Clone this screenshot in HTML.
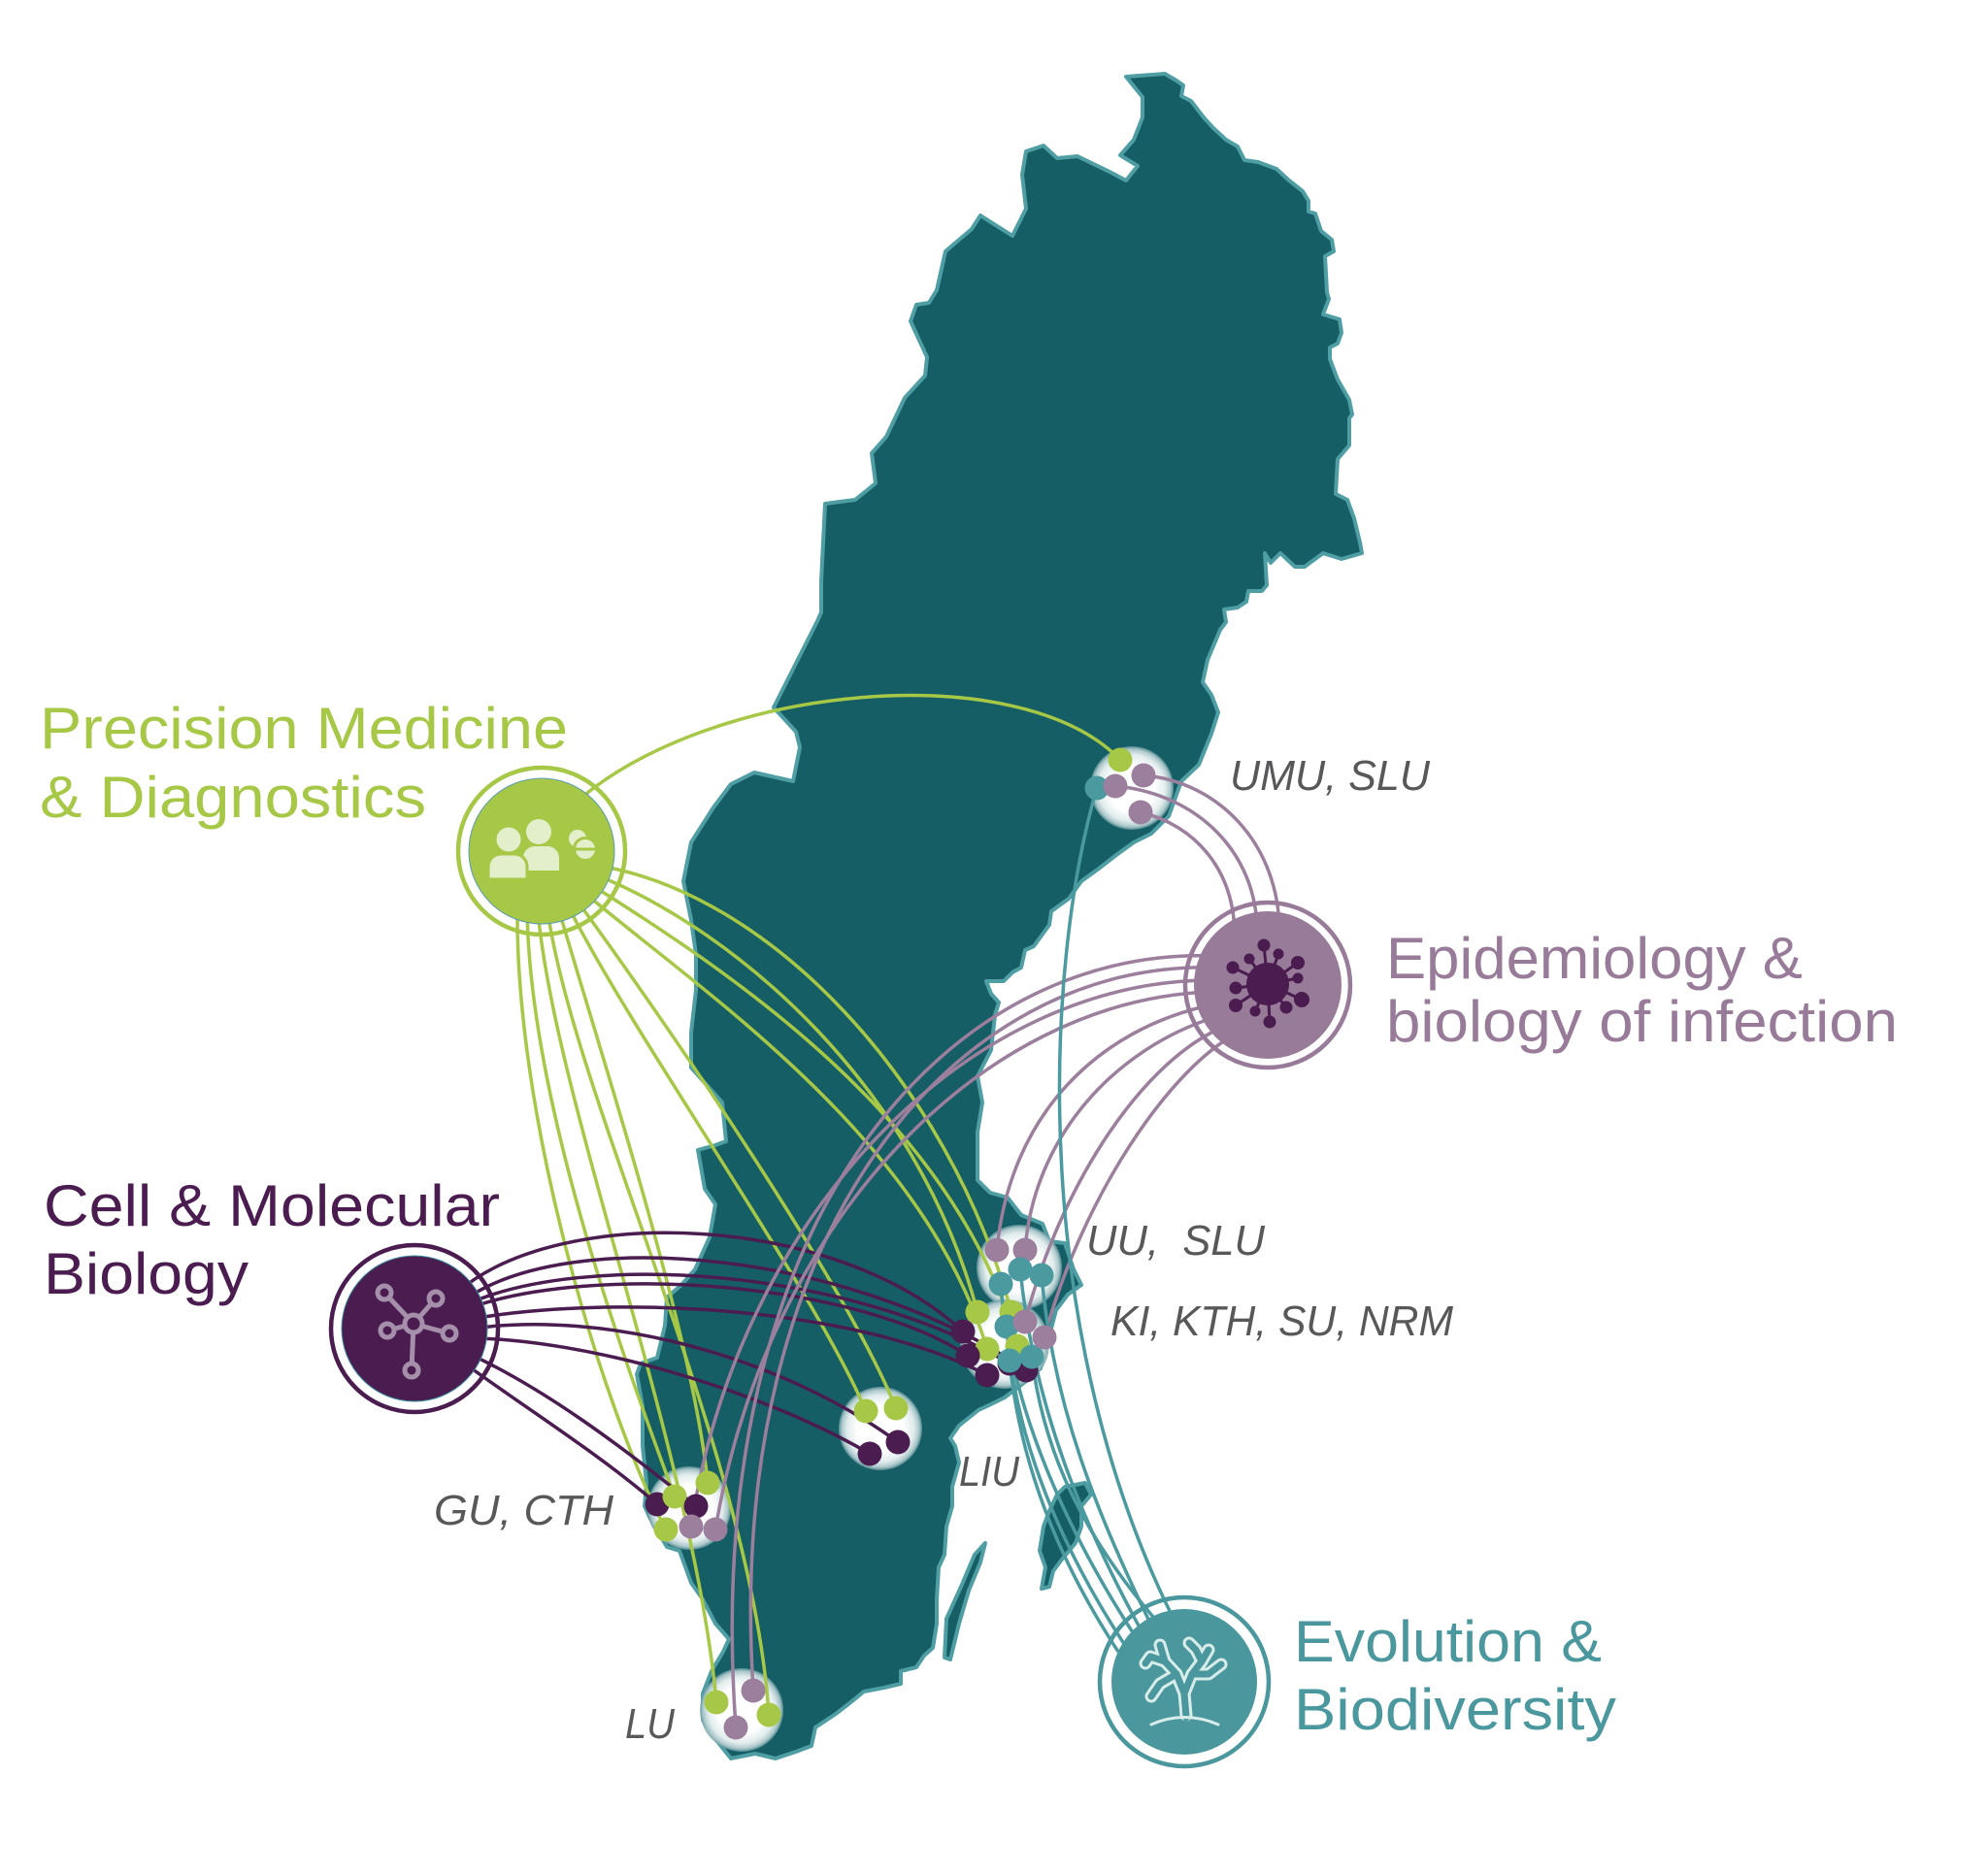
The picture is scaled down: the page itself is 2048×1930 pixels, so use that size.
<!DOCTYPE html>
<html>
<head>
<meta charset="utf-8">
<style>
html,body{margin:0;padding:0;background:#fff;}
body{width:2048px;height:1930px;overflow:hidden;}
svg{display:block;}
.t{font-family:"Liberation Sans",Arial,sans-serif;font-size:60px;}
.l{font-family:"Liberation Sans",Arial,sans-serif;font-size:44px;font-style:italic;fill:#58585a;}
</style>
</head>
<body>
<svg width="2048" height="1930" viewBox="0 0 2048 1930" xmlns="http://www.w3.org/2000/svg">
<defs>
<radialGradient id="glow">
<stop offset="0" stop-color="#ffffff"/>
<stop offset="0.55" stop-color="#ffffff"/>
<stop offset="0.8" stop-color="#e2eced"/>
<stop offset="0.93" stop-color="#a9c6c9"/>
<stop offset="1" stop-color="#6a9ca1" stop-opacity="0.75"/>
</radialGradient>
</defs>

<!-- Sweden map -->
<g fill="#155e66" stroke="#4f9ea4" stroke-width="4" stroke-linejoin="round">
<path d="M1160,79 L1200,76 1212,83 1219,88 1217,99 1227,104 1240,121 1250,132 1263,144 1275,151 1282,165 1296,167 1315,174 1328,186 1342,197 1348,207 1348,218 1355,220 1361,238 1372,247 1374,259 1365,264 1367,301 1369,308 1363,324 1380,329 1382,343 1378,354 1370,358 1370,370 1378,391 1390,412 1393,427 1390,431 1390,459 1378,473 1376,509 1388,515 1395,534 1401,559 1403,570 1382,576 1363,570 1344,584 1334,584 1319,570 1309,580 1303,570 1305,603 1300,609 1286,609 1284,620 1275,626 1261,628 1263,641 1257,649 1244,680 1239,703 1248,716 1255,734 1248,756 1235,788 1217,805 1204,841 1186,859 1168,868 1150,881 1132,895 1114,908 1101,926 1083,939 1081,953 1065,975 1056,979 1052,997 1043,1002 1034,1011 1016,1011 1021,1024 1029,1033 1025,1046 1021,1082 1007,1109 1012,1136 1007,1167 1007,1216 1020,1229 1038,1234 1052,1252 1074,1261 1081,1279 1097,1281 1106,1308 1114,1324 1100,1334 1088,1350 1080,1380 1072,1410 1056,1424 1035,1440 1025,1445 1008,1453 988,1469 979,1482 984,1490 988,1507 981,1532 981,1552 975,1573 973,1602 967,1615 965,1648 965,1673 961,1698 952,1706 944,1718 928,1722 928,1735 911,1739 890,1743 874,1756 861,1766 840,1780 836,1799 820,1805 799,1812 778,1807 753,1812 741,1797 724,1772 724,1745 733,1722 745,1702 751,1689 737,1673 724,1648 712,1631 700,1598 687,1594 670,1565 664,1552 666,1528 662,1490 662,1449 656,1416 660,1405 677,1399 685,1366 687,1337 702,1324 716,1308 731,1275 737,1241 726,1225 719,1185 737,1180 748,1176 744,1136 712,1100 712,1064 717,1020 717,984 712,948 704,908 712,868 735,832 753,808 777,796 817,805 824,770 820,754 797,729 842,640 846,631 846,600 847,579 850,519 881,515 902,498 898,467 913,450 932,410 953,387 955,368 938,331 944,314 957,312 965,299 974,259 1001,236 1010,222 1043,243 1057,215 1053,180 1057,156 1075,150 1089,163 1110,161 1145,178 1160,186 1172,171 1154,160 1168,144 1177,121 1177,100 Z"/>
<path d="M1097,1532 L1118,1528 1124,1540 1114,1552 1114,1573 1108,1590 1093,1608 1085,1619 1081,1635 1073,1637 1077,1615 1071,1598 1075,1573 1081,1557 1089,1540 Z"/>
<path d="M1015,1590 L1010,1610 998,1639 988,1673 979,1710 973,1708 975,1668 990,1635 1004,1602 Z"/>
</g>

<!-- cluster glows -->
<g fill="url(#glow)">
<circle cx="1166" cy="812" r="43"/>
<circle cx="1050" cy="1306" r="44"/>
<circle cx="1035" cy="1385" r="46"/>
<circle cx="907" cy="1472" r="43"/>
<circle cx="710" cy="1554" r="43"/>
<circle cx="764" cy="1762" r="43"/>
</g>

<!-- Precision Medicine lines (green) -->
<g fill="none" stroke="#a6c846" stroke-width="3.5">
<path d="M592,828 C730,705 1050,675 1154,783"/>
<path d="M616,892 C790,920 975,1110 1042,1352"/>
<path d="M613,901 C760,960 945,1120 1007,1352"/>
<path d="M608,911 C740,995 985,1150 1048,1387"/>
<path d="M601,919 C720,1020 950,1170 1017,1390"/>
<path d="M593,926 C680,1045 870,1320 923,1451"/>
<path d="M584,931 C650,1065 840,1330 892,1454"/>
<path d="M575,935 C620,1090 715,1380 729,1528"/>
<path d="M564,937 C590,1130 775,1500 792,1767"/>
<path d="M554,937 C570,1130 715,1500 738,1754"/>
<path d="M543,935 C545,1140 650,1420 695,1542"/>
<path d="M533,933 C530,1150 620,1450 686,1576"/>
</g>

<!-- Cell & Molecular lines (dark purple) -->
<g fill="none" stroke="#4a1c4f" stroke-width="3.5">
<path d="M473,1330 C580,1240 860,1250 992,1372"/>
<path d="M479,1339 C590,1262 880,1290 1057,1412"/>
<path d="M481,1344 C600,1290 870,1305 1040,1405"/>
<path d="M483,1348 C610,1302 880,1320 997,1397"/>
<path d="M486,1359 C630,1334 880,1345 1017,1417"/>
<path d="M487,1369 C620,1350 800,1395 925,1486"/>
<path d="M486,1379 C600,1380 780,1430 896,1498"/>
<path d="M481,1394 C560,1430 640,1490 717,1552"/>
<path d="M476,1403 C540,1450 620,1500 677,1550"/>
</g>

<!-- Epidemiology lines (mauve) -->
<g fill="none" stroke="#9b7f9d" stroke-width="3.5">
<path d="M1178,799 C1255,805 1318,870 1318,960"/>
<path d="M1149,810 C1235,818 1295,880 1295,960"/>
<path d="M1175,837 C1230,850 1272,895 1272,965"/>
<path d="M1250,985 C980,975 720,1250 758,1780"/>
<path d="M1249,997 C990,990 745,1260 776,1742"/>
<path d="M1248,1010 C1000,1010 760,1250 712,1573"/>
<path d="M1248,1022 C1010,1030 790,1260 737,1576"/>
<path d="M1250,1035 C1130,1060 1040,1150 1027,1288"/>
<path d="M1252,1048 C1150,1080 1065,1170 1056,1288"/>
<path d="M1256,1060 C1170,1100 1090,1230 1056,1362"/>
<path d="M1262,1072 C1190,1120 1110,1250 1076,1378"/>
</g>

<!-- Evolution lines (teal) -->
<g fill="none" stroke="#4a9aa0" stroke-width="3.5">
<path d="M1130,812 C1075,1000 1060,1380 1215,1680"/>
<path d="M1031,1323 C1040,1450 1100,1580 1172,1690"/>
<path d="M1051,1308 C1065,1450 1115,1570 1180,1688"/>
<path d="M1073,1314 C1085,1450 1130,1560 1190,1683"/>
<path d="M1037,1367 C1045,1480 1090,1590 1160,1697"/>
<path d="M1040,1402 C1050,1500 1085,1600 1152,1702"/>
<path d="M1063,1398 C1075,1500 1120,1590 1200,1680"/>
</g>

<!-- Hubs -->
<!-- Precision Medicine -->
<circle cx="558" cy="877" r="86" fill="none" stroke="#a6c846" stroke-width="4.5"/>
<circle cx="558" cy="877" r="75" fill="#a6c846" stroke="#5b9bb0" stroke-width="1"/>
<g fill="#e3eecb">
<circle cx="555" cy="857" r="13"/>
<path d="M539,884 a12,12 0 0 1 12,-12 h13 a12,12 0 0 1 12,12 v13 h-37 z"/>
<circle cx="524" cy="865" r="14" stroke="#a6c846" stroke-width="3"/>
<path d="M503,893 a13,13 0 0 1 13,-13 h14 a13,13 0 0 1 13,13 v13 h-40 z" stroke="#a6c846" stroke-width="3"/>
<circle cx="595" cy="864" r="10" stroke="#a6c846" stroke-width="2"/>
<circle cx="603" cy="875" r="11.5" stroke="#a6c846" stroke-width="3"/>
</g>
<line x1="592" y1="875" x2="614" y2="875" stroke="#a6c846" stroke-width="3"/>

<!-- Epidemiology -->
<circle cx="1306" cy="1015" r="85" fill="none" stroke="#977b99" stroke-width="4.5"/>
<circle cx="1306" cy="1015" r="76" fill="#977b99"/>
<g stroke="#4a1c4f" stroke-width="3" fill="#4a1c4f">
<line x1="1306" y1="1014" x2="1302" y2="974"/>
<line x1="1306" y1="1014" x2="1317" y2="983"/>
<line x1="1306" y1="1014" x2="1337" y2="992"/>
<line x1="1306" y1="1014" x2="1337" y2="1008"/>
<line x1="1306" y1="1014" x2="1341" y2="1030"/>
<line x1="1306" y1="1014" x2="1325" y2="1038"/>
<line x1="1306" y1="1014" x2="1308" y2="1053"/>
<line x1="1306" y1="1014" x2="1293" y2="1042"/>
<line x1="1306" y1="1014" x2="1273" y2="1036"/>
<line x1="1306" y1="1014" x2="1273" y2="1018"/>
<line x1="1306" y1="1014" x2="1270" y2="997"/>
<line x1="1306" y1="1014" x2="1287" y2="988"/>
<circle cx="1302" cy="974" r="5"/>
<circle cx="1317" cy="983" r="4"/>
<circle cx="1337" cy="992" r="5.5"/>
<circle cx="1337" cy="1008" r="4"/>
<circle cx="1341" cy="1030" r="6.5"/>
<circle cx="1325" cy="1038" r="5"/>
<circle cx="1308" cy="1053" r="5"/>
<circle cx="1293" cy="1042" r="4"/>
<circle cx="1273" cy="1036" r="5.5"/>
<circle cx="1273" cy="1018" r="5"/>
<circle cx="1270" cy="997" r="5"/>
<circle cx="1287" cy="988" r="4"/>
<circle cx="1306" cy="1014" r="22" stroke="none"/>
</g>

<!-- Cell & Molecular -->
<circle cx="427" cy="1369" r="86" fill="none" stroke="#4a1c4f" stroke-width="4.5"/>
<circle cx="427" cy="1369" r="75" fill="#4a1c4f" stroke="#3a8a9a" stroke-width="1"/>
<g stroke="#a58fab" stroke-width="5" fill="none">
<line x1="426" y1="1364" x2="396" y2="1332"/>
<line x1="426" y1="1364" x2="449" y2="1338"/>
<line x1="426" y1="1364" x2="399" y2="1371"/>
<line x1="426" y1="1364" x2="463" y2="1374"/>
<line x1="426" y1="1364" x2="424" y2="1412"/>
<circle cx="426" cy="1364" r="9" fill="#4a1c4f"/>
<circle cx="396" cy="1332" r="7" fill="#4a1c4f"/>
<circle cx="449" cy="1338" r="7" fill="#4a1c4f"/>
<circle cx="399" cy="1371" r="7" fill="#4a1c4f"/>
<circle cx="463" cy="1374" r="7" fill="#4a1c4f"/>
<circle cx="424" cy="1412" r="7" fill="#4a1c4f"/>
</g>

<!-- Evolution -->
<circle cx="1220" cy="1733" r="87" fill="none" stroke="#4a979e" stroke-width="4.5"/>
<circle cx="1220" cy="1733" r="75" fill="#4a979e"/>
<g fill="none" stroke-linecap="round" stroke-linejoin="round">
<g stroke="#d8ecea" stroke-width="13">
<path d="M1222,1767 L1220,1745 1212,1725 1200,1712 1195,1695"/>
<path d="M1212,1725 L1195,1735 1186,1748"/>
<path d="M1200,1712 L1185,1707 1180,1714"/>
<path d="M1220,1745 L1228,1725 1238,1712 1245,1700"/>
<path d="M1228,1725 L1245,1725 1258,1715"/>
<path d="M1238,1712 L1232,1700 1225,1693"/>
</g>
<g stroke="#4a979e" stroke-width="7">
<path d="M1222,1770 L1220,1745 1212,1725 1200,1712 1195,1695"/>
<path d="M1212,1725 L1195,1735 1186,1748"/>
<path d="M1200,1712 L1185,1707 1180,1714"/>
<path d="M1220,1745 L1228,1725 1238,1712 1245,1700"/>
<path d="M1228,1725 L1245,1725 1258,1715"/>
<path d="M1238,1712 L1232,1700 1225,1693"/>
</g>
<path d="M1186,1777 Q1220,1762 1255,1777" stroke="#d8ecea" stroke-width="3"/>
</g>

<!-- Dots -->
<g>
<!-- UMU -->
<circle cx="1130" cy="812" r="12.5" fill="#4a9aa0"/>
<circle cx="1154" cy="783" r="12.5" fill="#a6c846"/>
<circle cx="1149" cy="810" r="12.5" fill="#9b7f9d"/>
<circle cx="1178" cy="799" r="12.5" fill="#9b7f9d"/>
<circle cx="1175" cy="837" r="12.5" fill="#9b7f9d"/>
<!-- UU -->
<circle cx="1027" cy="1288" r="12.5" fill="#9b7f9d"/>
<circle cx="1056" cy="1288" r="12.5" fill="#9b7f9d"/>
<circle cx="1051" cy="1308" r="12.5" fill="#4a9aa0"/>
<circle cx="1073" cy="1314" r="12.5" fill="#4a9aa0"/>
<circle cx="1031" cy="1323" r="12.5" fill="#4a9aa0"/>
<!-- KI -->
<circle cx="1057" cy="1412" r="12.5" fill="#4a1c4f"/>
<circle cx="1040" cy="1405" r="12.5" fill="#4a1c4f"/>
<circle cx="1007" cy="1352" r="12.5" fill="#a6c846"/>
<circle cx="1042" cy="1352" r="12.5" fill="#a6c846"/>
<circle cx="1037" cy="1367" r="12.5" fill="#4a9aa0"/>
<circle cx="992" cy="1372" r="12.5" fill="#4a1c4f"/>
<circle cx="1017" cy="1390" r="12.5" fill="#a6c846"/>
<circle cx="1048" cy="1387" r="12.5" fill="#a6c846"/>
<circle cx="997" cy="1397" r="12.5" fill="#4a1c4f"/>
<circle cx="1040" cy="1402" r="12.5" fill="#4a9aa0"/>
<circle cx="1063" cy="1398" r="12.5" fill="#4a9aa0"/>
<circle cx="1017" cy="1417" r="12.5" fill="#4a1c4f"/>
<circle cx="1056" cy="1362" r="12.5" fill="#9b7f9d"/>
<circle cx="1076" cy="1378" r="12.5" fill="#9b7f9d"/>
<!-- LIU -->
<circle cx="892" cy="1454" r="12.5" fill="#a6c846"/>
<circle cx="923" cy="1451" r="12.5" fill="#a6c846"/>
<circle cx="925" cy="1486" r="12.5" fill="#4a1c4f"/>
<circle cx="896" cy="1498" r="12.5" fill="#4a1c4f"/>
<!-- GU -->
<circle cx="677" cy="1550" r="12.5" fill="#4a1c4f"/>
<circle cx="695" cy="1542" r="12.5" fill="#a6c846"/>
<circle cx="729" cy="1528" r="12.5" fill="#a6c846"/>
<circle cx="717" cy="1552" r="12.5" fill="#4a1c4f"/>
<circle cx="686" cy="1576" r="12.5" fill="#a6c846"/>
<circle cx="712" cy="1573" r="12.5" fill="#9b7f9d"/>
<circle cx="737" cy="1576" r="12.5" fill="#9b7f9d"/>
<!-- LU -->
<circle cx="738" cy="1754" r="12.5" fill="#a6c846"/>
<circle cx="776" cy="1742" r="12.5" fill="#9b7f9d"/>
<circle cx="792" cy="1767" r="12.5" fill="#a6c846"/>
<circle cx="758" cy="1780" r="12.5" fill="#9b7f9d"/>
</g>

<!-- Titles -->
<text class="t" x="41" y="771" fill="#a6c846" textLength="544" lengthAdjust="spacingAndGlyphs">Precision Medicine</text>
<text class="t" x="41" y="842" fill="#a6c846" textLength="398" lengthAdjust="spacingAndGlyphs">&amp; Diagnostics</text>
<text class="t" x="1428" y="1008" fill="#977b99" textLength="429" lengthAdjust="spacingAndGlyphs">Epidemiology &amp;</text>
<text class="t" x="1428" y="1073" fill="#977b99" textLength="527" lengthAdjust="spacingAndGlyphs">biology of infection</text>
<text class="t" x="45" y="1263" fill="#4a1c4f" textLength="470" lengthAdjust="spacingAndGlyphs">Cell &amp; Molecular</text>
<text class="t" x="45" y="1333" fill="#4a1c4f" textLength="211" lengthAdjust="spacingAndGlyphs">Biology</text>
<text class="t" x="1333" y="1712" fill="#4a979e" textLength="317" lengthAdjust="spacingAndGlyphs">Evolution &amp;</text>
<text class="t" x="1333" y="1782" fill="#4a979e" textLength="332" lengthAdjust="spacingAndGlyphs">Biodiversity</text>

<!-- Labels -->
<text class="l" x="1267" y="814" textLength="206" lengthAdjust="spacingAndGlyphs">UMU, SLU</text>
<text class="l" x="1119" y="1293" textLength="184" lengthAdjust="spacingAndGlyphs">UU,&#160; SLU</text>
<text class="l" x="1144" y="1376" textLength="353" lengthAdjust="spacingAndGlyphs">KI, KTH, SU, NRM</text>
<text class="l" x="988" y="1531" textLength="62" lengthAdjust="spacingAndGlyphs">LIU</text>
<text class="l" x="447" y="1571" textLength="185" lengthAdjust="spacingAndGlyphs">GU, CTH</text>
<text class="l" x="644" y="1791" textLength="51" lengthAdjust="spacingAndGlyphs">LU</text>
</svg>
</body>
</html>
